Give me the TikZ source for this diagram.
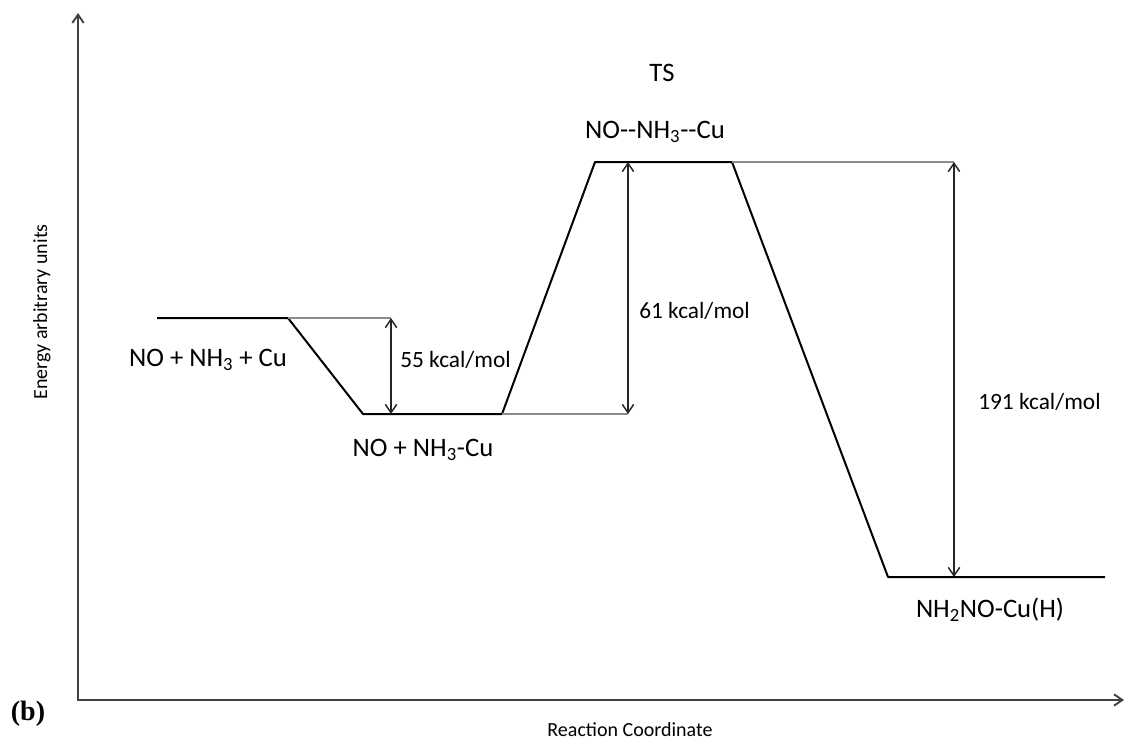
\documentclass[tikz,border=0pt]{standalone}
\usepackage{fontspec}
\setmainfont{Carlito}
\newfontfamily\tagfont{Liberation Serif}
\usetikzlibrary{arrows.meta}

\begin{document}
\begin{tikzpicture}[x=0.75pt,y=-0.75pt,
  lvl/.style={line width=1.5pt,line join=round},
  guide/.style={line width=0.9pt,black!45},
  gap/.style={{Straight Barb[length=2.2mm,width=3mm]}-{Straight Barb[length=2.2mm,width=3mm]},line width=1.1pt,black!85},
  axis/.style={{Straight Barb[length=2.2mm,width=3mm]}-{Straight Barb[length=2.2mm,width=3mm]},line width=1.4pt,black!75},
  lab/.style={font=\fontsize{20}{24}\selectfont,inner sep=0pt},
  elab/.style={font=\fontsize{17.5}{21}\selectfont,inner sep=0pt,anchor=west},
  axlab/.style={font=\fontsize{15}{18}\selectfont,inner sep=0pt}
]
  \useasboundingbox (0,0) rectangle (1126,743);
  % axes
  \coordinate (ytop) at (78,13);
  \coordinate (orig) at (78,700);
  \coordinate (xend) at (1124,700);
  \draw[axis] (ytop) -- (orig) -- (xend);
  \node[axlab,rotate=90] (ylab) at (42,312) {Energy arbitrary units};
  \node[axlab] (xlab) at (630,730) {Reaction Coordinate};
  \node[inner sep=0pt,font=\tagfont\bfseries\fontsize{21}{24}\selectfont] (tag) at (28,714) {(b)};

  % energy levels
  \coordinate (r1) at (157,318); \coordinate (r2) at (288,318);
  \coordinate (i1) at (363,414); \coordinate (i2) at (502,414);
  \coordinate (t1) at (595,162); \coordinate (t2) at (732,162);
  \coordinate (p1) at (888,577); \coordinate (p2) at (1105,577);
  \draw[lvl] (r1) -- (r2) -- (i1) -- (i2) -- (t1) -- (t2) -- (p1) -- (p2);

  % guides and gaps
  \coordinate (g1) at (391,318); \coordinate (g1b) at (391,414);
  \coordinate (g2) at (628,414); \coordinate (g2b) at (628,162);
  \coordinate (g3) at (954,162); \coordinate (g3b) at (954,577);
  \draw[guide] (r2) -- (g1);
  \draw[guide] (i2) -- (g2);
  \draw[guide] (t2) -- (g3);
  \draw[gap] (g1) -- (g1b);
  \draw[gap] (g2b) -- (g2);
  \draw[gap] (g3) -- (g3b);

  % labels
  \node[lab] (react) at (208,360) {NO + NH\textsubscript{3} + Cu};
  \node[elab] (e55) at (400,360) {55 kcal/mol};
  \node[lab] (inter) at (423,450) {NO + NH\textsubscript{3}-Cu};
  \node[lab] (ts) at (662,73) {TS};
  \node[lab] (tsname) at (655,132) {NO-{}-NH\textsubscript{3}-{}-Cu};
  \node[elab] (e61) at (639,311) {61 kcal/mol};
  \node[elab] (e191) at (978,402) {191 kcal/mol};
  \node[lab] (prod) at (990,610) {NH\textsubscript{2}NO-Cu(H)};
\end{tikzpicture}
\end{document}
